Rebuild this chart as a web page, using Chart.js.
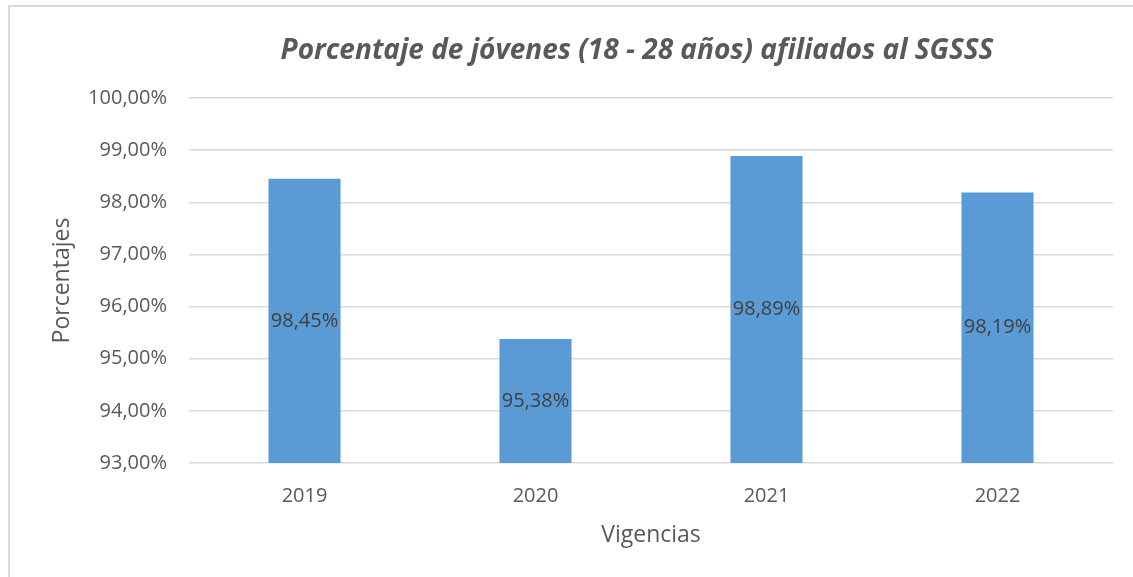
<!DOCTYPE html>
<html lang="es">
<head>
<meta charset="utf-8">
<title>Porcentaje de jóvenes afiliados al SGSSS</title>
<script src="https://cdn.jsdelivr.net/npm/chart.js@4/dist/chart.umd.min.js"></script>
<style>
    html, body { margin: 0; padding: 0; background: #fff; overflow: hidden; }
    .frame {
        position: absolute; left: 8px; top: 5px;
        width: 1140px; height: 590px;
        border: 2px solid #d9d9d9;
        box-sizing: border-box;
    }
    .wrap { position: absolute; left: 0; top: 0; width: 1133px; height: 577px; }
</style>
</head>
<body>
<div class="frame"></div>
<div class="wrap"><canvas id="chart"></canvas></div>
<script>
// Datos del gráfico
const vigencias = ['2019', '2020', '2021', '2022'];
const porcentajes = [98.45, 95.38, 98.89, 98.19];
const yMin = 93;
const yMax = 100;
const titulo = 'Porcentaje de jóvenes (18 - 28 años) afiliados al SGSSS';

const FONT = '"Open Sans", sans-serif';

function formatPct(v) {
    return Number(v).toFixed(2).replace('.', ',') + '%';
}

// Título y etiquetas de datos (centradas en cada barra)
const extras = {
    id: 'extras',
    afterDraw(chart) {
        const c = chart.ctx;
        const area = chart.chartArea;
        const yScale = chart.scales.y;
        const meta = chart.getDatasetMeta(0);
        c.save();
        // título
        c.font = 'italic bold 28px ' + FONT;
        c.fillStyle = '#595959';
        c.textAlign = 'center';
        c.textBaseline = 'middle';
        c.fillText(titulo, (area.left + area.right) / 2 - 14, 51);
        // etiquetas
        c.font = '20px ' + FONT;
        c.fillStyle = '#404040';
        const base = yScale.getPixelForValue(yMin);
        meta.data.forEach((bar, i) => {
            const top = yScale.getPixelForValue(porcentajes[i]);
            c.fillText(formatPct(porcentajes[i]), bar.x, (top + base) / 2);
        });
        c.restore();
    }
};

const chartCtx = document.getElementById('chart').getContext('2d');
new Chart(chartCtx, {
    type: 'bar',
    data: {
        labels: vigencias,
        datasets: [{
            data: porcentajes,
            backgroundColor: '#5b9bd5',
            borderWidth: 0,
            categoryPercentage: 1,
            barPercentage: 0.312
        }]
    },
    options: {
        responsive: true,
        maintainAspectRatio: false,
        animation: false,
        layout: {
            padding: { left: 20, right: 20, top: 98, bottom: 0 }
        },
        plugins: {
            legend: { display: false },
            tooltip: { enabled: false },
            title: { display: false }
        },
        scales: {
            x: {
                grid: { display: false },
                border: { display: false },
                ticks: {
                    color: '#595959',
                    font: { family: FONT, size: 20 },
                    padding: 13
                },
                title: {
                    display: true,
                    text: 'Vigencias',
                    color: '#595959',
                    font: { family: FONT, size: 23 },
                    padding: { top: 10, bottom: 28 }
                },
                afterFit(scale) { scale.height = 114; }
            },
            y: {
                min: yMin,
                max: yMax,
                grid: { color: '#d9d9d9', lineWidth: 1.5, drawTicks: false },
                border: { display: false },
                ticks: {
                    stepSize: 1,
                    color: '#595959',
                    font: { family: FONT, size: 20 },
                    padding: 22,
                    callback: v => formatPct(v)
                },
                title: {
                    display: true,
                    text: 'Porcentajes',
                    color: '#595959',
                    font: { family: FONT, size: 23 },
                    padding: { top: 29, bottom: 0 }
                },
                afterFit(scale) { scale.width = 169; }
            }
        }
    },
    plugins: [extras]
});
</script>
</body>
</html>
